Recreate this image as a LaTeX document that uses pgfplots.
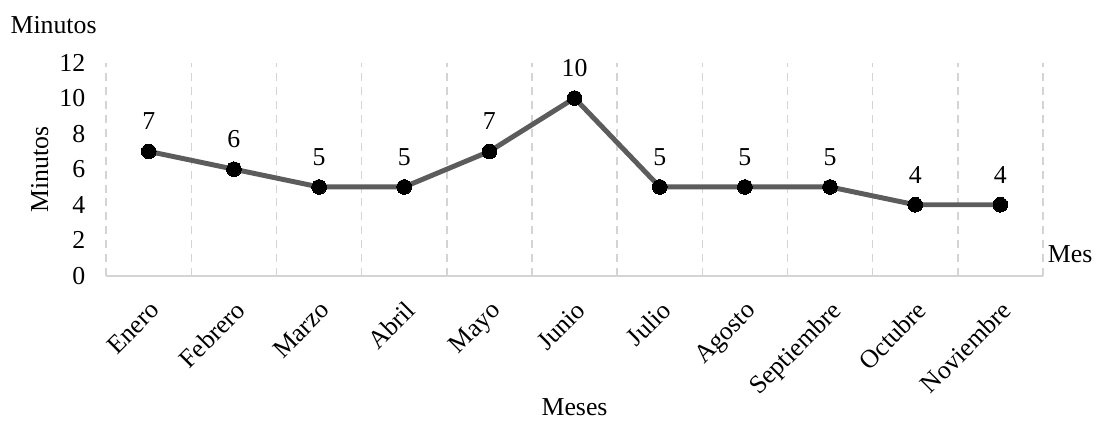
\documentclass[border=0pt]{standalone}
\usepackage{fontspec}
\setmainfont{Liberation Serif}
\usepackage{pgfplots}
\pgfplotsset{compat=1.18}
\definecolor{linegray}{HTML}{5C5C5C}
\definecolor{gridgray}{HTML}{D4D4D4}
\newcommand{\chartfont}{\fontsize{13}{15.6}\selectfont}
\begin{document}
\chartfont
\begin{tikzpicture}
\begin{axis}[
  scale only axis,
  width=472pt, height=107.5pt,
  xmin=-0.5, xmax=10.5, ymin=0, ymax=12,
  xtick={0,...,10},
  xticklabels={Enero,Febrero,Marzo,Abril,Mayo,Junio,Julio,Agosto,Septiembre,Octubre,Noviembre},
  minor xtick={-0.5,0.5,...,10.5},
  xminorgrids,
  minor grid style={gridgray, dash pattern=on 4pt off 3pt, line width=0.75pt},
  ytick={0,2,...,12},
  extra y ticks={0},
  extra y tick labels={},
  extra y tick style={ymajorgrids, major grid style={gridgray, solid, line width=0.9pt}},
  axis line style={draw=none},
  major tick length=0pt, minor tick length=0pt,
  tick style={draw=none},
  xticklabel style={rotate=45, anchor=north east, xshift=-4pt, yshift=-4pt, font=\chartfont},
  yticklabel style={xshift=-6pt, font=\chartfont},
  /pgf/number format/assume math mode=true,
  nodes near coords,
  every node near coord/.append style={anchor=south, yshift=6.5pt, text=black, font=\chartfont},
  clip=false,
]
\addplot[linegray, line width=2.5pt, mark=*, mark size=3.7pt,
  mark options={fill=black, draw=black, line width=0pt}]
  coordinates {(0,7) (1,6) (2,5) (3,5) (4,7) (5,10) (6,5) (7,5) (8,5) (9,4) (10,4)};
\node[anchor=west, font=\chartfont] at ([xshift=-2pt]axis cs:10.5,1.2) {Mes};
\node[font=\chartfont] at ([xshift=-26.5pt, yshift=19pt]rel axis cs:0,1) {Minutos};
\node[rotate=90, font=\chartfont] at ([xshift=-33.5pt]rel axis cs:0,0.5) {Minutos};
\node[font=\chartfont] at ([yshift=-66pt]rel axis cs:0.5,0) {Meses};
\end{axis}
\useasboundingbox ([xshift=-53.5pt, yshift=-74pt]current axis.south west) rectangle ([xshift=497pt, yshift=139pt]current axis.south west);
\end{tikzpicture}
\end{document}
